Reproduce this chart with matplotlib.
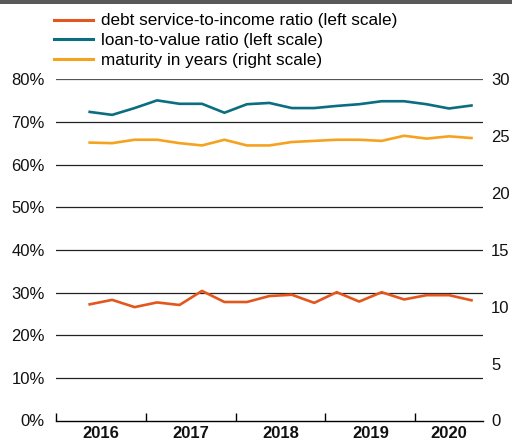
import matplotlib
matplotlib.use("Agg")
import matplotlib.pyplot as plt
import numpy as np

plt.rcParams['font.family'] = ['Liberation Sans', 'DejaVu Sans']

# Quarterly observations, 2016 Q2 to 2020 Q3
quarters = ["2016Q2", "2016Q3", "2016Q4",
            "2017Q1", "2017Q2", "2017Q3", "2017Q4",
            "2018Q1", "2018Q2", "2018Q3", "2018Q4",
            "2019Q1", "2019Q2", "2019Q3", "2019Q4",
            "2020Q1", "2020Q2", "2020Q3"]
dsti = [27.25, 28.3, 26.6, 27.7, 27.1, 30.4, 27.8, 27.8, 29.2, 29.5, 27.6,
        30.1, 27.9, 30.1, 28.4, 29.4, 29.4, 28.2]
ltv = [72.4, 71.7, 73.3, 75.1, 74.3, 74.3, 72.2, 74.2, 74.5, 73.3, 73.3,
       73.8, 74.2, 74.9, 74.9, 74.2, 73.2, 73.9]
maturity = [24.45, 24.4, 24.7, 24.7, 24.4, 24.2, 24.7, 24.2, 24.2, 24.5, 24.6,
            24.7, 24.7, 24.6, 25.05, 24.8, 25.0, 24.85]
years = ["2016", "2017", "2018", "2019", "2020"]
left_ticks = [0, 10, 20, 30, 40, 50, 60, 70, 80]
right_ticks = [0, 5, 10, 15, 20, 25, 30]

c_dsti = "#E3561E"
c_ltv = "#0B6E80"
c_mat = "#F5A31F"
fs = 12

fig = plt.figure(figsize=(5.12, 4.42), dpi=100)
fig.patch.set_facecolor("white")
fig.add_artist(plt.Rectangle((0, 1 - 4 / 442), 1, 4 / 442, transform=fig.transFigure,
                             color="#595959", lw=0))

ax = fig.add_axes([56 / 512, 1 - 420.5 / 442, (482.7 - 56) / 512, (420.5 - 79.5) / 442])

def qpos(q):
    y, n = int(q[:4]), int(q[-1])
    return (y - 2016) * 4 + (n - 1) + 0.5

x = np.array([qpos(q) for q in quarters])

ax.set_xlim(0, 19)
ax.set_ylim(0, 80)
ax2 = ax.twinx()
ax2.set_ylim(0, 30)

for v in left_ticks[1:]:
    ax.axhline(v, color="#555555" if v == 80 else "#222222", lw=0.9, zorder=1)

l1, = ax.plot(x, dsti, color=c_dsti, lw=1.9, zorder=3,
              label="debt service-to-income ratio (left scale)")
l2, = ax.plot(x, ltv, color=c_ltv, lw=1.9, zorder=3,
              label="loan-to-value ratio (left scale)")
l3, = ax2.plot(x, maturity, color=c_mat, lw=1.9, zorder=3,
               label="maturity in years (right scale)")

for a in (ax, ax2):
    for s in a.spines.values():
        s.set_visible(False)
ax.spines["bottom"].set_visible(True)
ax.spines["bottom"].set_color("black")
ax.spines["bottom"].set_linewidth(1.0)

ax.set_yticks(left_ticks)
ax.set_yticklabels([f"{v}%" for v in left_ticks])
ax.tick_params(axis="y", length=0, pad=8, labelsize=fs, labelcolor="#111111")
ax2.set_yticks(right_ticks)
ax2.set_yticklabels([str(v) for v in right_ticks])
ax2.tick_params(axis="y", length=0, pad=6, labelsize=fs, labelcolor="#111111")

# year boundaries as inward ticks, labels centred on each year's span
ax.set_xticks([0, 4, 8, 12, 16])
ax.tick_params(axis="x", which="major", direction="in", length=6, width=1.0,
               color="black", labelbottom=False)
year_centres = [2, 6, 10, 14, 17.5]
ax.set_xticks(year_centres, minor=True)
ax.set_xticklabels(years, minor=True, fontweight="bold")
ax.tick_params(axis="x", which="minor", length=0, pad=4, labelsize=fs,
               labelcolor="#111111")

leg = fig.legend(handles=[l1, l2, l3], loc="upper left",
                 bbox_to_anchor=(54 / 512, 1 - 13.5 / 442), frameon=False,
                 fontsize=12.3, handlelength=2.28, handletextpad=0.5,
                 labelspacing=0.28, borderpad=0, borderaxespad=0)
for line in leg.get_lines():
    line.set_linewidth(2.2)

fig.savefig("out.png", dpi=100)
